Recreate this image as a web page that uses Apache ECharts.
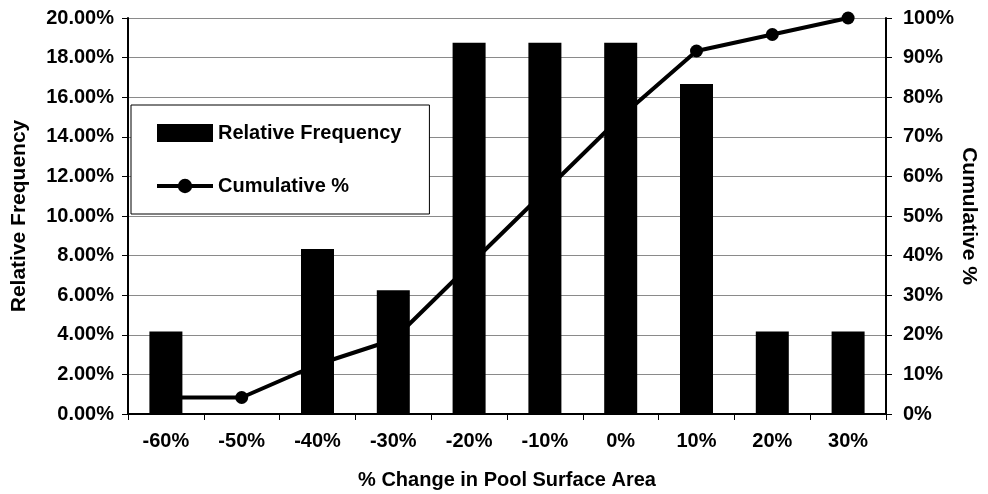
<!DOCTYPE html>
<html>
<head>
<meta charset="utf-8">
<script src="https://cdn.jsdelivr.net/npm/echarts@6/dist/echarts.min.js"></script>
<style>
html,body{margin:0;padding:0;background:#fff;}
#chart{width:988px;height:494px;}
</style>
</head>
<body>
<div id="chart"></div>
<script>
var categories = ['-60%', '-50%', '-40%', '-30%', '-20%', '-10%', '0%', '10%', '20%', '30%'];
var relativeFrequency = [4.17, 0, 8.33, 6.25, 18.75, 18.75, 18.75, 16.67, 4.17, 4.17];
var cumulativePct = [4.17, 4.17, 12.5, 18.75, 37.5, 56.25, 75, 91.67, 95.83, 100];

var FONT = '"Liberation Sans", Arial, sans-serif';
var chart = echarts.init(document.getElementById('chart'));
chart.setOption({
  animation: false,
  backgroundColor: '#fff',
  textStyle: { fontFamily: FONT, fontWeight: 'bold', color: '#000' },
  grid: { left: 128, right: 102, top: 18, bottom: 80, containLabel: false, outerBoundsMode: 'none' },
  legend: {
    orient: 'vertical',
    left: 131, top: 105,
    padding: [18, 28, 18, 24],
    itemGap: 33,
    itemWidth: 56, itemHeight: 18,
    borderColor: '#000', borderWidth: 1,
    backgroundColor: '#fff',
    textStyle: { fontFamily: FONT, fontWeight: 'bold', fontSize: 20, color: '#000' },
    data: [
      { name: 'Relative Frequency', icon: 'rect' },
      { name: 'Cumulative %', lineStyle: { width: 4, color: '#000' } }
    ]
  },
  xAxis: {
    type: 'category',
    data: categories,
    name: '% Change in Pool Surface Area',
    nameLocation: 'middle',
    nameGap: 56,
    nameTextStyle: { fontFamily: FONT, fontWeight: 'bold', fontSize: 20, color: '#000' },
    axisLine: { lineStyle: { color: '#000', width: 2 } },
    axisTick: { show: true, alignWithLabel: false, length: 6, lineStyle: { color: '#000', width: 1 } },
    axisLabel: { margin: 17, fontFamily: FONT, fontWeight: 'bold', fontSize: 20, color: '#000' }
  },
  yAxis: [{
    type: 'value',
    min: 0, max: 20, interval: 2,
    position: 'left',
    name: 'Relative Frequency',
    nameLocation: 'middle',
    nameGap: 98,
    nameTextStyle: { fontFamily: FONT, fontWeight: 'bold', fontSize: 21, color: '#000' },
    axisLine: { show: true, lineStyle: { color: '#000', width: 2 } },
    axisTick: { show: true, length: 6, lineStyle: { color: '#000' } },
    axisLabel: { margin: 14, fontFamily: FONT, fontWeight: 'bold', fontSize: 20, color: '#000',
      formatter: function (v) { return v.toFixed(2) + '%'; } },
    splitLine: { show: true, lineStyle: { color: '#8a8a8a', width: 1 } }
  }, {
    type: 'value',
    min: 0, max: 100, interval: 10,
    position: 'right',
    name: 'Cumulative %',
    nameLocation: 'middle',
    nameGap: 72,
    nameRotate: -90,
    nameMoveOverlap: false,
    nameTextStyle: { fontFamily: FONT, fontWeight: 'bold', fontSize: 21, color: '#000' },
    axisLine: { show: true, lineStyle: { color: '#000', width: 2 } },
    axisTick: { show: true, length: 6, lineStyle: { color: '#000' } },
    axisLabel: { margin: 17, fontFamily: FONT, fontWeight: 'bold', fontSize: 20, color: '#000',
      formatter: function (v) { return v + '%'; } },
    splitLine: { show: false }
  }],
  series: [{
    name: 'Relative Frequency',
    type: 'bar',
    yAxisIndex: 0,
    data: relativeFrequency,
    barWidth: 33,
    itemStyle: { color: '#000' }
  }, {
    name: 'Cumulative %',
    type: 'line',
    yAxisIndex: 1,
    data: cumulativePct,
    symbol: 'circle',
    symbolSize: 13,
    showAllSymbol: true,
    lineStyle: { color: '#000', width: 4 },
    itemStyle: { color: '#000' }
  }]
});
</script>
</body>
</html>
